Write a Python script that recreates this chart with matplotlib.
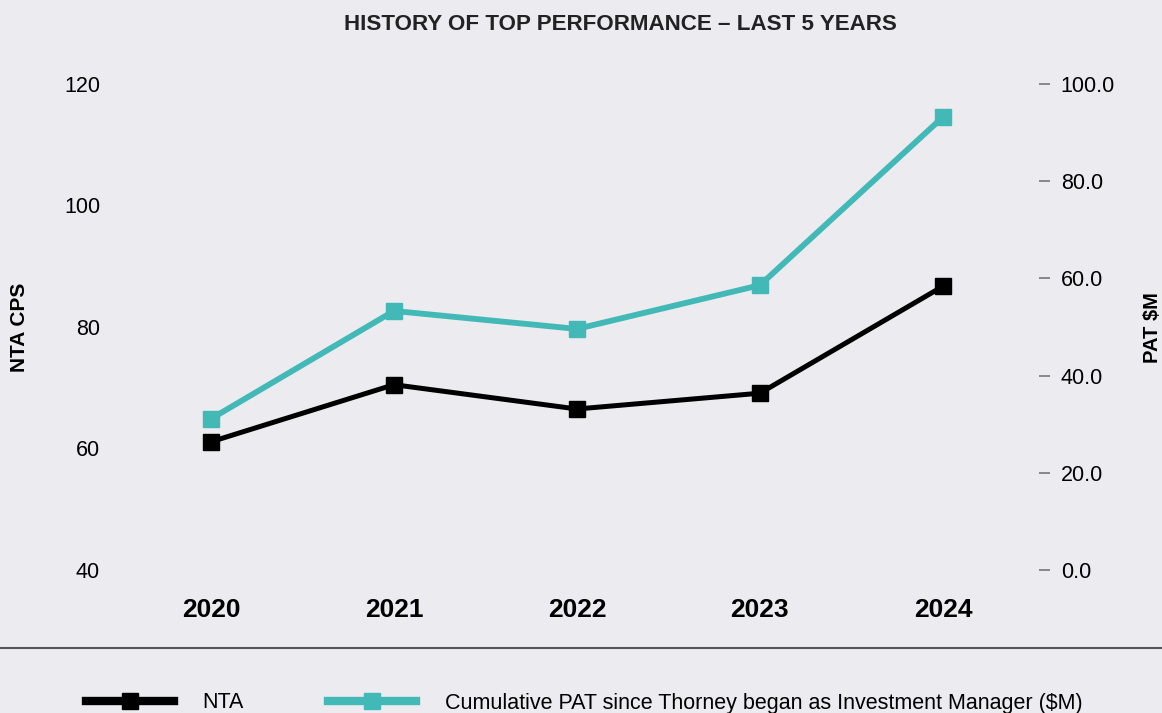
import matplotlib
matplotlib.use("Agg")
import matplotlib.pyplot as plt
from matplotlib.lines import Line2D

plt.rcParams['font.family'] = ['Liberation Sans', 'DejaVu Sans']

years = ['2020', '2021', '2022', '2023', '2024']
nta_cps = [61.1, 70.5, 66.5, 69.1, 86.7]
cum_pat = [31.1, 53.3, 49.6, 58.6, 93.2]
left_ticks = [40, 60, 80, 100, 120]
right_ticks = [0, 20, 40, 60, 80, 100]

bg = '#EBEBF0'
teal = '#42B9B6'

fig = plt.figure(figsize=(11.62, 7.13), dpi=100, facecolor=bg)
ax = fig.add_axes([0.1028, 0.2006, 0.7874, 0.6816], facecolor=bg)
ax2 = ax.twinx()

x = list(range(len(years)))
ax.plot(x, nta_cps, color='black', lw=3.6, marker='s', ms=12, zorder=3)
ax2.plot(x, cum_pat, color=teal, lw=4.2, marker='s', ms=12, zorder=3)

ax.set_xlim(-0.5, len(years) - 0.5)
ax.set_ylim(40, 120)
ax2.set_ylim(0, 100)

ax.set_xticks(x)
ax.set_xticklabels(years, fontsize=19, fontweight='bold')
ax.set_yticks(left_ticks)
ax.set_yticklabels([str(v) for v in left_ticks], fontsize=15.5)
ax.tick_params(axis='x', length=0, pad=20.5)
ax.tick_params(axis='y', length=0, pad=14)

ax2.spines['right'].set_position(('outward', 3))
ax2.set_yticks(right_ticks)
ax2.set_yticklabels([f'{v:.1f}' for v in right_ticks], fontsize=15.5)
ax2.tick_params(axis='y', length=8, width=1.3, color='#808080', pad=8)

for a in (ax, ax2):
    for s in a.spines.values():
        s.set_visible(False)

fig.text(0.5336, 0.966, 'HISTORY OF TOP PERFORMANCE \u2013 LAST 5 YEARS',
         ha='center', va='center', fontsize=16.1, fontweight='bold', color='#222222')
fig.text(0.0172, 0.541, 'NTA CPS', rotation=90, ha='center', va='center',
         fontsize=15, fontweight='bold')
fig.text(0.9914, 0.541, 'PAT $M', rotation=90, ha='center', va='center',
         fontsize=14.5, fontweight='bold')

fig.add_artist(Line2D([0, 1], [1 - 648 / 713] * 2, color='#555555', lw=1.5,
                      transform=fig.transFigure))

handles = [
    Line2D([], [], color='black', lw=6, marker='s', ms=12),
    Line2D([], [], color=teal, lw=6, marker='s', ms=12),
]
labels = ['NTA', 'Cumulative PAT since Thorney began as Investment Manager ($M)']
fig.legend(handles, labels, ncol=2, loc='center left',
           bbox_to_anchor=(86 / 1162, 1 - 703 / 713), frameon=False,
           fontsize=15.5, borderpad=0, borderaxespad=0, handlelength=4.09,
           handletextpad=1.33, columnspacing=3.9)

fig.savefig('out.png', dpi=100, facecolor=bg)
